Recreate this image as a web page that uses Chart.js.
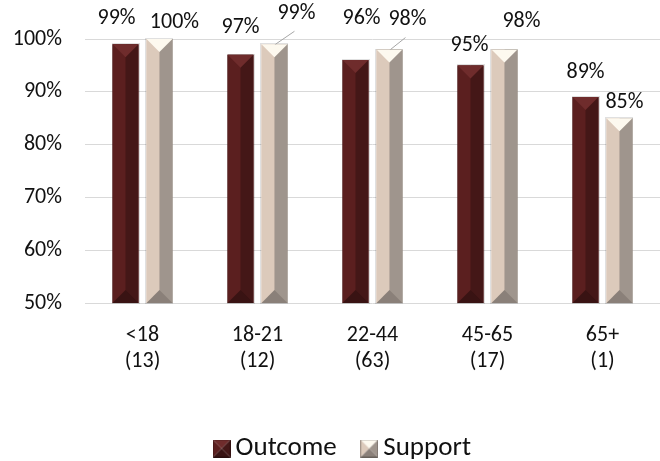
<!DOCTYPE html>
<html>
<head>
  <script src="https://cdn.jsdelivr.net/npm/chart.js@4.4.0/dist/chart.umd.min.js"></script>
  <style>
    html, body {
      margin: 0;
      padding: 0;
      background: #ffffff;
      overflow: hidden;
    }
    #wrap {
      position: relative;
      width: 660px;
      height: 461px;
    }
  </style>
</head>
<body>
  <div id="wrap"><canvas id="ageChart"></canvas></div>

  <script>
    // age groups, with the number of people in each group
    var categories = ['<18', '18-21', '22-44', '45-65', '65+'];
    var groupCounts = ['(13)', '(12)', '(63)', '(17)', '(1)'];
    var outcomeValues = [99, 97, 96, 95, 89];
    var supportValues = [100, 99, 98, 98, 85];
    var yTickValues = [50, 60, 70, 80, 90, 100];

    var FONT = "Carlito, Lato, 'Open Sans', sans-serif";

    // bevelled bar colours: left face, right face, top cap, bottom cap
    var outcomePal = { left: '#5b1f1f', right: '#441717', top: '#6f2c2c', bottom: '#391313' };
    var supportPal = { left: '#dccabb', right: '#9f958d', top: '#fdf9ef', bottom: '#8a8079' };

    // where each value label sits relative to the top of its bar [dx, dy, leader]
    var outcomeLabelShift = [[-9, -26], [0, -27], [6, -42], [-1, -20], [0, -25]];
    var supportLabelShift = [[15, -17], [22, -31, true], [18, -30, true], [17, -28], [5, -16]];

    function drawBevel(ctx, x, top, bottom, w, pal) {
      var l = x - w / 2, r = x + w / 2, h = bottom - top;
      var d = Math.min(w / 2, h / 2);
      ctx.fillStyle = pal.left;
      ctx.fillRect(l, top, w / 2, h);
      ctx.fillStyle = pal.right;
      ctx.fillRect(x, top, w / 2, h);
      ctx.fillStyle = pal.top;
      ctx.beginPath();
      ctx.moveTo(l, top);
      ctx.lineTo(r, top);
      ctx.lineTo(x, top + d);
      ctx.closePath();
      ctx.fill();
      ctx.fillStyle = pal.bottom;
      ctx.beginPath();
      ctx.moveTo(l, bottom);
      ctx.lineTo(r, bottom);
      ctx.lineTo(x, bottom - d);
      ctx.closePath();
      ctx.fill();
      ctx.strokeStyle = 'rgba(0,0,0,0.12)';
      ctx.lineWidth = 1;
      ctx.strokeRect(Math.round(l) - 0.5, Math.round(top) - 0.5, Math.round(w) + 1, Math.round(h) + 1);
    }

    // small pyramid squares used as legend icons
    function legendIcon(pal) {
      var c = document.createElement('canvas');
      var s = 18;
      c.width = s;
      c.height = s;
      var g = c.getContext('2d');
      var m = s / 2;
      var tri = function (col, a, b) {
        g.fillStyle = col;
        g.beginPath();
        g.moveTo(a[0], a[1]);
        g.lineTo(b[0], b[1]);
        g.lineTo(m, m);
        g.closePath();
        g.fill();
      };
      tri(pal.top, [0, 0], [s, 0]);
      tri(pal.left, [0, 0], [0, s]);
      tri(pal.right, [s, 0], [s, s]);
      tri(pal.bottom, [0, s], [s, s]);
      g.strokeStyle = 'rgba(0,0,0,0.25)';
      g.strokeRect(0.5, 0.5, s - 1, s - 1);
      return c;
    }

    var bevelPlugin = {
      id: 'bevelBars',
      afterDatasetsDraw: function (chart) {
        var ctx = chart.ctx;
        var area = chart.chartArea;
        ctx.save();
        chart.data.datasets.forEach(function (ds, di) {
          var meta = chart.getDatasetMeta(di);
          meta.data.forEach(function (bar) {
            var p = bar.getProps(['x', 'y', 'base', 'width'], true);
            // the value axis starts at 50%, so the bar stops at the plot floor
            var bottom = Math.min(p.base, area.bottom);
            drawBevel(ctx, p.x, p.y, bottom, p.width, ds.bevel);
          });
        });
        ctx.restore();
      }
    };

    var valueLabelPlugin = {
      id: 'valueLabels',
      afterDatasetsDraw: function (chart) {
        var ctx = chart.ctx;
        ctx.save();
        ctx.font = '22px ' + FONT;
        ctx.fillStyle = '#111111';
        ctx.textAlign = 'center';
        ctx.textBaseline = 'middle';
        chart.data.datasets.forEach(function (ds, di) {
          var meta = chart.getDatasetMeta(di);
          meta.data.forEach(function (bar, i) {
            var p = bar.getProps(['x', 'y'], true);
            var s = ds.labelShift[i];
            var tx = p.x + s[0], ty = p.y + s[1];
            if (s[2]) {
              ctx.strokeStyle = '#a6a6a6';
              ctx.lineWidth = 1;
              ctx.beginPath();
              ctx.moveTo(p.x + 1, p.y);
              ctx.lineTo(tx - 2, ty + 18);
              ctx.stroke();
            }
            ctx.fillText(ds.data[i] + '%', tx, ty);
          });
        });
        ctx.restore();
      }
    };

    // the legend row counts its trailing gap when centring, so nudge it back
    var legendNudge = {
      id: 'legendNudge',
      afterLayout: function (chart) {
        var lg = chart.legend;
        var gap = lg.options.labels.padding / 2;
        lg.left += gap;
        lg.right += gap;
      }
    };

    var ctx = document.getElementById('ageChart').getContext('2d');
    var ageChart = new Chart(ctx, {
      type: 'bar',
      data: {
        labels: categories.map(function (c, i) { return [c, groupCounts[i]]; }),
        datasets: [{
          label: 'Outcome',
          data: outcomeValues,
          backgroundColor: outcomePal.left,
          bevel: outcomePal,
          labelShift: outcomeLabelShift,
          icon: legendIcon(outcomePal)
        }, {
          label: 'Support',
          data: supportValues,
          backgroundColor: supportPal.left,
          bevel: supportPal,
          labelShift: supportLabelShift,
          icon: legendIcon(supportPal)
        }]
      },
      options: {
        responsive: true,
        maintainAspectRatio: false,
        animation: false,
        datasets: {
          bar: {
            categoryPercentage: 0.59,
            barPercentage: 0.765
          }
        },
        layout: {
          padding: { top: 39, right: 0, bottom: 0, left: 0 }
        },
        scales: {
          x: {
            grid: { display: false, drawTicks: false },
            border: { display: false },
            afterFit: function (scale) { scale.height = 100; },
            ticks: {
              padding: 20,
              color: '#111111',
              font: { family: FONT, size: 22, lineHeight: 1.18 }
            }
          },
          y: {
            min: 50,
            max: 100,
            afterFit: function (scale) { scale.width = 85; },
            afterBuildTicks: function (scale) {
              scale.ticks = yTickValues.map(function (v) { return { value: v }; });
            },
            grid: { color: '#d9d9d9', lineWidth: 1, drawTicks: false },
            border: { display: false },
            ticks: {
              padding: 23,
              color: '#111111',
              font: { family: FONT, size: 22 },
              callback: function (v) { return v + '%'; }
            }
          }
        },
        plugins: {
          tooltip: { enabled: false },
          legend: {
            position: 'bottom',
            maxHeight: 58,
            labels: {
              usePointStyle: true,
              pointStyleWidth: 1,
              padding: 32,
              color: '#111111',
              font: { family: FONT, size: 27 },
              generateLabels: function (chart) {
                var items = Chart.defaults.plugins.legend.labels.generateLabels(chart);
                items.forEach(function (it) {
                  it.pointStyle = chart.data.datasets[it.datasetIndex].icon;
                });
                return items;
              }
            }
          }
        }
      },
      plugins: [bevelPlugin, valueLabelPlugin, legendNudge]
    });
  </script>
</body>
</html>
